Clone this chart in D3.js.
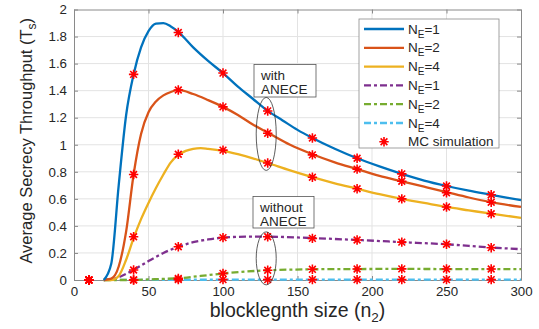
<!DOCTYPE html>
<html>
<head>
<meta charset="utf-8">
<script src="https://cdn.jsdelivr.net/npm/d3@7"></script>
<style>
  body { margin: 0; background: #fff; }
  svg { display: block; font-family: "Liberation Sans", Arial, sans-serif; }
</style>
</head>
<body>
<svg id="chart" width="539" height="329"></svg>
<script>
// Theory curves (n2 -> Ts)
const blueN = [20, 25, 30, 35, 40, 45, 50, 55, 60, 65, 70, 80, 90, 100, 110, 120, 130, 140, 150, 160, 175, 190, 205, 220, 235, 250, 265, 280, 300];
const blueT = [0, 0.12, 0.7, 1.22, 1.52, 1.72, 1.84, 1.895, 1.9, 1.875, 1.835, 1.72, 1.62, 1.53, 1.43, 1.34, 1.25, 1.18, 1.11, 1.05, 0.97, 0.9, 0.84, 0.785, 0.735, 0.695, 0.66, 0.63, 0.59];
const orangeN = [20, 25, 30, 35, 40, 45, 50, 55, 60, 65, 70, 80, 90, 100, 110, 120, 130, 145, 160, 175, 190, 205, 220, 235, 250, 265, 280, 300];
const orangeT = [0, 0.01, 0.1, 0.36, 0.78, 1.08, 1.24, 1.32, 1.365, 1.39, 1.405, 1.375, 1.33, 1.28, 1.22, 1.15, 1.09, 1.0, 0.93, 0.87, 0.82, 0.77, 0.73, 0.69, 0.65, 0.61, 0.575, 0.54];
const yellowN = [20, 25, 30, 35, 40, 45, 50, 55, 60, 65, 70, 75, 80, 85, 90, 100, 110, 120, 130, 145, 160, 175, 190, 205, 220, 235, 250, 265, 280, 300];
const yellowT = [0, 0, 0.03, 0.15, 0.31, 0.45, 0.57, 0.68, 0.78, 0.87, 0.925, 0.955, 0.97, 0.975, 0.97, 0.955, 0.93, 0.9, 0.865, 0.81, 0.76, 0.715, 0.675, 0.635, 0.6, 0.57, 0.54, 0.515, 0.49, 0.46];
const purpleN = [20, 25, 30, 35, 40, 50, 60, 70, 80, 90, 100, 115, 130, 160, 190, 220, 250, 280, 300];
const purpleT = [0, 0.005, 0.02, 0.045, 0.075, 0.14, 0.2, 0.245, 0.28, 0.3, 0.313, 0.32, 0.32, 0.31, 0.296, 0.28, 0.264, 0.24, 0.228];
const greenN = [20, 40, 50, 60, 70, 85, 100, 115, 130, 160, 190, 220, 250, 280, 300];
const greenT = [0, 0, 0.004, 0.008, 0.013, 0.03, 0.048, 0.062, 0.072, 0.079, 0.081, 0.082, 0.081, 0.081, 0.08];
const cyanN = [20, 40, 70, 100, 130, 160, 190, 220, 250, 280, 300];
const cyanT = [0, 0.001, 0.002, 0.002, 0.003, 0.003, 0.003, 0.003, 0.003, 0.003, 0.003];

// Monte Carlo points
const mcN = [10, 40, 70, 100, 130, 160, 190, 220, 250, 280];
const mcBlue = [0, 1.52, 1.83, 1.53, 1.25, 1.05, 0.9, 0.785, 0.695, 0.63];
const mcOrange = [0, 0.78, 1.405, 1.28, 1.085, 0.925, 0.82, 0.73, 0.645, 0.575];
const mcYellow = [0, 0.32, 0.93, 0.96, 0.865, 0.76, 0.675, 0.6, 0.54, 0.49];
const mcPurple = [0, 0.074, 0.246, 0.313, 0.32, 0.308, 0.296, 0.28, 0.264, 0.239];
const mcGreen = [0, 0, 0.012, 0.049, 0.072, 0.079, 0.081, 0.082, 0.081, 0.081];
const mcCyan = [0, 0.001, 0.003, 0.003, 0.003, 0.003, 0.003, 0.003, 0.003, 0.003];

const xTicks = [0, 50, 100, 150, 200, 250, 300];
const yTicks = [0, 0.2, 0.4, 0.6, 0.8, 1, 1.2, 1.4, 1.6, 1.8, 2];
const legendLabels = ["1", "2", "4", "1", "2", "4"];

const Series = [
    { N: blueN, T: blueT, MC: mcBlue, Color: "#0072BD", Dash: null },
    { N: orangeN, T: orangeT, MC: mcOrange, Color: "#D95319", Dash: null },
    { N: yellowN, T: yellowT, MC: mcYellow, Color: "#EDB120", Dash: null },
    { N: purpleN, T: purpleT, MC: mcPurple, Color: "#7E2F8E", Dash: "7,3,3,3" },
    { N: greenN, T: greenT, MC: mcGreen, Color: "#77AC30", Dash: "7,3,3,3" },
    { N: cyanN, T: cyanT, MC: mcCyan, Color: "#4DBEEE", Dash: "7,3,3,3" }
];

const Width = 539, Height = 329;
const Margin = { Top: 9.5, Right: 18, Bottom: 49, Left: 74 };
const SVG = d3.select("#chart");
const X = d3.scaleLinear().domain([0, 300]).range([Margin.Left, Width - Margin.Right]);
const Y = d3.scaleLinear().domain([0, 2]).range([Height - Margin.Bottom, Margin.Top]);
const AxisColor = "#8a8a8a", TextColor = "#262626";

// Grid
SVG.append("g").selectAll("line").data(xTicks.slice(1, -1)).enter().append("line")
    .attr("x1", d => X(d)).attr("x2", d => X(d))
    .attr("y1", Y(0)).attr("y2", Y(2))
    .attr("stroke", "#e3e3e3").attr("stroke-width", 1);
SVG.append("g").selectAll("line").data(yTicks.slice(1, -1)).enter().append("line")
    .attr("x1", X(0)).attr("x2", X(300))
    .attr("y1", d => Y(d)).attr("y2", d => Y(d))
    .attr("stroke", "#e3e3e3").attr("stroke-width", 1);

// Axes (box with inward ticks)
function Axis(Generator, Transform) {
    var G = SVG.append("g").attr("transform", Transform).call(Generator);
    G.select(".domain").attr("stroke", AxisColor);
    G.selectAll(".tick line").attr("stroke", AxisColor);
    G.selectAll(".tick text").attr("fill", TextColor).attr("font-size", "13.3px")
        .attr("font-family", "Liberation Sans, Arial, sans-serif");
    return G;
}
const Fmt = d => d3.format("~g")(d);
Axis(d3.axisBottom(X).tickValues(xTicks).tickFormat(Fmt).tickSizeInner(-4).tickSizeOuter(0).tickPadding(7), `translate(0,${Y(0)})`);
Axis(d3.axisTop(X).tickValues(xTicks).tickFormat("").tickSizeInner(-4).tickSizeOuter(0), `translate(0,${Y(2)})`);
Axis(d3.axisLeft(Y).tickValues(yTicks).tickFormat(Fmt).tickSizeInner(-4).tickSizeOuter(0).tickPadding(7), `translate(${X(0)},0)`);
Axis(d3.axisRight(Y).tickValues(yTicks).tickFormat("").tickSizeInner(-4).tickSizeOuter(0), `translate(${X(300)},0)`);

// Curves
const Line = d3.line().x(d => X(d[0])).y(d => Y(d[1])).curve(d3.curveMonotoneX);
Series.slice().reverse().forEach(S => {
    SVG.append("path")
        .datum(d3.zip(S.N, S.T))
        .attr("d", Line)
        .attr("fill", "none")
        .attr("stroke", S.Color)
        .attr("stroke-width", 2.3)
        .attr("stroke-dasharray", S.Dash);
});

// Asterisk marker
function Star(G, Cx, Cy) {
    var R = 4.7, D = R * 0.72;
    G.append("path")
        .attr("d", `M${Cx},${Cy - R}V${Cy + R}M${Cx - R},${Cy}H${Cx + R}M${Cx - D},${Cy - D}L${Cx + D},${Cy + D}M${Cx - D},${Cy + D}L${Cx + D},${Cy - D}`)
        .attr("stroke", "#ff0000").attr("stroke-width", 1.6).attr("fill", "none");
}
const Marks = SVG.append("g");
Series.forEach(S => mcN.forEach((N, I) => Star(Marks, X(N), Y(S.MC[I]))));

// Annotations
function Note(Box, Lines, Ell) {
    var G = SVG.append("g");
    G.append("rect").attr("x", Box[0]).attr("y", Box[1]).attr("width", Box[2]).attr("height", Box[3])
        .attr("fill", "#fff").attr("stroke", "#555").attr("stroke-width", 0.8);
    Lines.forEach((T, I) => G.append("text").attr("x", Box[0] + 7).attr("y", Box[1] + 15 + I * 14)
        .attr("font-size", "13.5px").attr("fill", TextColor).text(T));
    G.append("ellipse").attr("cx", Ell[0]).attr("cy", Ell[1]).attr("rx", Ell[2]).attr("ry", Ell[3])
        .attr("fill", "none").attr("stroke", "#333").attr("stroke-width", 0.8);
}
Note([254, 64.5, 62, 32.5], ["with", "ANECE"], [X(129), Y(1.08), 10, 36.5]);
Note([253, 196.5, 61, 31.5], ["without", "ANECE"], [X(129), Y(0.16), 10, 26.5]);

// Legend
const Legend = SVG.append("g");
Legend.append("rect").attr("x", 359).attr("y", 19).attr("width", 140).attr("height", 129)
    .attr("fill", "#fff").attr("stroke", "#8a8a8a").attr("stroke-width", 0.8);
Series.forEach((S, I) => {
    var Ly = 29 + I * 18.8;
    Legend.append("line").attr("x1", 364).attr("x2", 404).attr("y1", Ly).attr("y2", Ly)
        .attr("stroke", S.Color).attr("stroke-width", 2.3).attr("stroke-dasharray", S.Dash);
    var T = Legend.append("text").attr("x", 408).attr("y", Ly + 4.5).attr("font-size", "13.5px").attr("fill", TextColor);
    T.append("tspan").text("N");
    T.append("tspan").attr("dy", 4).attr("font-size", "10px").text("E");
    T.append("tspan").attr("dy", -4).text("=" + legendLabels[I]);
});
Star(Legend, 384, 29 + 6 * 18.8);
Legend.append("text").attr("x", 408).attr("y", 29 + 6 * 18.8 + 4.5).attr("font-size", "13.5px")
    .attr("fill", TextColor).text("MC simulation");

// Axis labels
const XLabel = SVG.append("text").attr("x", (X(0) + X(300)) / 2).attr("y", 317)
    .attr("text-anchor", "middle").attr("font-size", "19.5px").attr("fill", TextColor);
XLabel.append("tspan").text("blocklegnth size (n");
XLabel.append("tspan").attr("dy", 5).attr("font-size", "13.5px").text("2");
XLabel.append("tspan").attr("dy", -5).text(")");

const YLabel = SVG.append("text").attr("transform", `translate(32,${(Y(0) + Y(2)) / 2 - 4}) rotate(-90)`)
    .attr("text-anchor", "middle").attr("font-size", "16.5px").attr("fill", TextColor);
YLabel.append("tspan").text("Average Secrecy Throughput (T");
YLabel.append("tspan").attr("dy", 4).attr("font-size", "12px").text("s");
YLabel.append("tspan").attr("dy", -4).text(")");
</script>
</body>
</html>
